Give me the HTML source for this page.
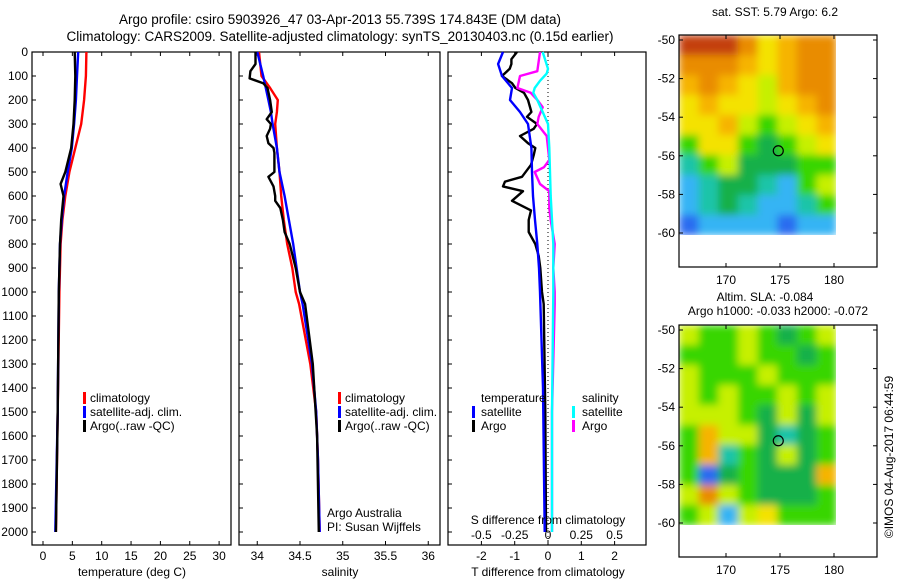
<!DOCTYPE html>
<html><head><meta charset="utf-8">
<style>
body{margin:0;background:#fff;}
svg{display:block;font-family:"Liberation Sans",Arial,sans-serif;}
</style></head>
<body>
<svg id="fig" width="900" height="580" viewBox="0 0 900 580">
<defs>
<filter id="soft" x="-5%" y="-5%" width="110%" height="110%"><feGaussianBlur stdDeviation="4" edgeMode="duplicate"/></filter>
<clipPath id="clip1"><rect x="679" y="35" width="157" height="200"/></clipPath>
<clipPath id="clip2"><rect x="679" y="325" width="157" height="200"/></clipPath>
</defs>
<rect width="900" height="580" fill="#fff"/>
<text x="340" y="24" font-size="13.5" text-anchor="middle">Argo profile: csiro 5903926_47 03-Apr-2013 55.739S 174.843E (DM data)</text>
<text x="340" y="41" font-size="13.5" text-anchor="middle">Climatology: CARS2009. Satellite-adjusted climatology: synTS_20130403.nc (0.15d earlier)</text>
<g id="plots"></g>
<g id="maps"></g>
</svg>
<script>
// ---- depth grids & profile data ----
const depthT = [0,100,200,300,400,500,600,700,800,1000,1500,2000];
const tempClim = [7.4,7.3,7.0,6.5,5.5,4.5,3.8,3.3,3.0,2.8,2.5,2.2];
const tempSat = [6.0,5.8,5.6,5.3,4.9,4.2,3.6,3.2,2.9,2.7,2.5,2.1];
const depthTA = [0,100,200,300,400,500,550,600,700,800,1000,1500,2000];
const tempArgo = [5.4,5.5,5.4,5.2,4.8,3.8,3.0,3.5,3.1,2.9,2.7,2.5,2.2];

const depthS = [0,100,150,200,250,300,400,500,600,700,800,900,1000,1050,1300,1500,1700,2000];
const salClim = [34.02,34.05,34.15,34.24,34.23,34.21,34.23,34.26,34.28,34.31,34.35,34.41,34.45,34.49,34.62,34.69,34.71,34.73];
const salSat = [34.0,34.07,34.10,34.13,34.16,34.18,34.23,34.26,34.32,34.37,34.42,34.46,34.50,34.53,34.64,34.69,34.71,34.73];
const depthSA = [0,50,80,110,130,150,200,250,280,300,320,350,380,400,420,500,520,560,600,620,650,700,750,800,900,1000,1050,1300,1600,2000];
const salArgo = [33.98,33.98,33.92,33.91,34.07,34.12,34.15,34.17,34.11,34.16,34.15,34.11,34.13,34.19,34.20,34.20,34.13,34.19,34.21,34.21,34.27,34.30,34.32,34.38,34.45,34.50,34.56,34.65,34.70,34.72];

const depthD1 = [0,50,100,150,200,250,300,400,500,600,700,800,900,1000,1400,2000];
const tdiffSat = [-1.35,-1.5,-1.38,-1.08,-1.14,-0.84,-0.6,-0.5,-0.48,-0.45,-0.39,-0.32,-0.27,-0.24,-0.15,-0.1];
const depthD2 = [0,30,50,70,100,130,150,170,200,250,270,300,320,350,380,400,430,470,520,540,560,580,620,660,700,750,800,850,900,1000,1050,1500,2000];
const tdiffArgo = [-0.93,-1.1,-1.1,-1.15,-1.38,-1.08,-0.98,-0.72,-0.6,-0.5,-0.63,-0.33,-0.43,-0.84,-0.6,-0.38,-0.43,-0.51,-0.78,-1.29,-1.35,-0.75,-1.08,-0.51,-0.58,-0.58,-0.38,-0.28,-0.23,-0.18,-0.13,-0.08,-0.06];
const depthD3 = [0,80,100,150,170,200,230,270,300,350,400,450,480,500,550,580,650,700,800,900,1000,1050,1500,2000];
const sdiffArgo = [-0.06,-0.08,-0.21,-0.23,-0.13,-0.08,-0.04,-0.07,-0.08,-0.01,0.0,0.01,-0.03,-0.1,-0.06,0.01,0.01,0.02,0.05,0.04,0.05,0.05,0.03,0.03];
const depthD4 = [0,70,90,120,150,170,200,250,300,400,600,800,1000,1500,2000];
const sdiffSat = [-0.04,0.0,-0.01,-0.06,-0.1,-0.11,-0.08,-0.04,0.0,0.01,0.02,0.04,0.04,0.03,0.03];

const depthTicks = [0,100,200,300,400,500,600,700,800,900,1000,1100,1200,1300,1400,1500,1600,1700,1800,1900,2000];
const tempTicks = [0,5,10,15,20,25,30];
const salTicks = [34,34.5,35,35.5,36];
const tdiffTicks = [-2,-1,0,1,2];
const sdiffTickLabels = ["-0.5","-0.25","0","0.25","0.5"];
const sdiffTicks = [-0.5,-0.25,0,0.25,0.5];

// ---- map colour grids (8 cols x 10 rows) ----
const sstRows = ["RRROYoOO","OOOoYoOO","oOoYLoOO","YoYYLYoO","YYoLGLYo","GYYGgGLY","CGLgggGG","cCggCcGL","cCgCccCG","BccccBcc"];
const slaRows = ["LGGLGgGL","GGGLGGgG","LGGGLGGG","LGLGGLGL","LLLGgLgL","GoLLgCgG","GoCGgLgG","GBgGgggo","LOLGgggG","GLcLYGGG"];
const palette = {R:"#c4400c",O:"#e98c00",o:"#f6b400",Y:"#f4e200",L:"#c6f000",G:"#38d600",g:"#14b048",C:"#1cc4a8",c:"#34b4f4",B:"#2a6cf0"};

const NS = "http://www.w3.org/2000/svg";
const plots = document.getElementById('plots');
const maps = document.getElementById('maps');
function mk(tag, attrs, parent){const e=document.createElementNS(NS,tag);for(const k in attrs)e.setAttribute(k,attrs[k]);(parent||plots).appendChild(e);return e;}

const Y0 = 52, YS = 0.24, YB = 545;
function yScale(d){return Y0 + d*YS;}
function tScale(v){return 43 + v*5.87;}
function sScale(v){return 300 + (v-34.5)*85.5;}
function tdScale(v){return 548 + v*33.3;}
function sdScale(v){return 548 + v*133.2;}

function frame(x0,x1,name){
  const r = mk('rect',{x:x0,y:Y0,width:x1-x0,height:YB-Y0,fill:'none',stroke:'#000','stroke-width':1.2});
  
  
  depthTicks.forEach(d=>{mk('line',{x1:x0,x2:x0+4,y1:yScale(d),y2:yScale(d),stroke:'#000'});});
}
function xticks(vals, f, labels, ly, name){
  vals.forEach((v,i)=>{
    const x=f(v);
    mk('line',{x1:x,x2:x,y1:Y0,y2:Y0+4,stroke:'#000'});
    mk('line',{x1:x,x2:x,y1:YB,y2:YB-4,stroke:'#000'});
    const t=mk('text',{x:x,y:ly,'font-size':12,'text-anchor':'middle'});
    t.textContent=labels[i];
    
    
  });
}
function line(ds, vs, f, color, name){
  const pts = ds.map((d,i)=>f(vs[i]).toFixed(1)+','+yScale(d).toFixed(1)).join(' ');
  const p = mk('polyline',{points:pts,fill:'none',stroke:color,'stroke-width':2.4,'stroke-linejoin':'round'});
  
  
}
function label(x,y,txt,name,anchor,size){
  const t=mk('text',{x:x,y:y,'font-size':size||12,'text-anchor':anchor||'start'});
  t.textContent=txt;
  
  
  return t;
}
function legendEntry(mx,tx,y,color,txt){
  const m=mk('rect',{x:mx,y:y-10,width:3,height:12,fill:color});
  
  
  label(tx,y,txt,'legend-entry');
}

// Panel 1: temperature
frame(32,231,'temperature-axes');
depthTicks.forEach(d=>{label(28,yScale(d)+4,String(d),'depth-tick-label','end');});
xticks(tempTicks,tScale,tempTicks.map(String),560,'temperature-tick-label');
label(132,576,'temperature (deg C)','temperature-axis-title','middle');
line(depthT,tempClim,tScale,'#ff0000','temp-climatology-line');
line(depthT,tempSat,tScale,'#0000ff','temp-satellite-line');
line(depthTA,tempArgo,tScale,'#000000','temp-argo-line');
legendEntry(83,90,402,'#ff0000','climatology');
legendEntry(83,90,416,'#0000ff','satellite-adj. clim.');
legendEntry(83,90,430,'#000000','Argo(..raw -QC)');

// Panel 2: salinity
frame(239,440,'salinity-axes');
xticks(salTicks,sScale,salTicks.map(String),560,'salinity-tick-label');
label(340,576,'salinity','salinity-axis-title','middle');
line(depthS,salClim,sScale,'#ff0000','sal-climatology-line');
line(depthS,salSat,sScale,'#0000ff','sal-satellite-line');
line(depthSA,salArgo,sScale,'#000000','sal-argo-line');
legendEntry(338,345,402,'#ff0000','climatology');
legendEntry(338,345,416,'#0000ff','satellite-adj. clim.');
legendEntry(338,345,430,'#000000','Argo(..raw -QC)');
label(327,517,'Argo Australia','argo-australia-label');
label(327,531,'PI: Susan Wijffels','pi-label');

// Panel 3: differences
frame(448,646,'difference-axes');
const zl = mk('line',{x1:548,x2:548,y1:Y0,y2:YB,stroke:'#000','stroke-dasharray':'1,3'});


xticks(tdiffTicks,tdScale,tdiffTicks.map(String),560,'tdiff-tick-label');
line(depthD2,tdiffArgo,tdScale,'#000000','tdiff-argo-line');
line(depthD1,tdiffSat,tdScale,'#0000ff','tdiff-satellite-line');
line(depthD3,sdiffArgo,sdScale,'#ff00ff','sdiff-argo-line');
line(depthD4,sdiffSat,sdScale,'#00ffff','sdiff-satellite-line');
sdiffTicks.forEach((v,i)=>{label(sdScale(v),539,sdiffTickLabels[i],'sdiff-tick-label','middle');});
label(548,524,'S difference from climatology','sdiff-axis-title','middle');
label(548,576,'T difference from climatology','tdiff-axis-title','middle');
label(481,402,'temperature','legend-title-temperature');
legendEntry(472,481,416,'#0000ff','satellite');
legendEntry(472,481,430,'#000000','Argo');
label(582,402,'salinity','legend-title-salinity');
legendEntry(572,582,416,'#00ffff','satellite');
legendEntry(572,582,430,'#ff00ff','Argo');

// ---- maps ----
function lonX(l){return 726 + (l-170)*10.8;}
function drawMap(top, rows, name, clipId){
  const latY = v => top + 5 + (-50 - v)*19.3;
  const imgX0 = 679, imgX1 = lonX(180.2), imgY0 = top, imgY1 = latY(-60.1);
  const cw = (imgX1-imgX0)/8, ch = (imgY1-imgY0)/10;
  const outer = mk('g',{'clip-path':'url(#'+clipId+')'},maps);
  const g = mk('g',{filter:'url(#soft)'},outer);
  
  
  rows.forEach((row,r)=>{
    [...row].forEach((c,k)=>{
      mk('rect',{x:imgX0+k*cw,y:imgY0+r*ch,width:cw+0.5,height:ch+0.5,fill:palette[c]},g);
    });
  });
  const circ = mk('circle',{cx:lonX(174.84),cy:latY(-55.74),r:5,fill:'none',stroke:'#000','stroke-width':1.2},maps);
  
  
  const fr = mk('rect',{x:679,y:top,width:198,height:232,fill:'none',stroke:'#000','stroke-width':1.2},maps);
  
  
  [-50,-52,-54,-56,-58,-60].forEach(v=>{
    const y=latY(v);
    mk('line',{x1:679,x2:683,y1:y,y2:y,stroke:'#000'},maps);
    mk('line',{x1:877,x2:873,y1:y,y2:y,stroke:'#000'},maps);
    const t=mk('text',{x:675,y:y+4,'font-size':12,'text-anchor':'end'},maps);
    t.textContent=String(v);
    
    
  });
  [170,175,180].forEach(v=>{
    const x=lonX(v);
    mk('line',{x1:x,x2:x,y1:top,y2:top+4,stroke:'#000'},maps);
    mk('line',{x1:x,x2:x,y1:top+232,y2:top+228,stroke:'#000'},maps);
    const t=mk('text',{x:x,y:top+249,'font-size':12,'text-anchor':'middle'},maps);
    t.textContent=String(v);
    
    
  });
}
drawMap(35, sstRows, 'sst-map', 'clip1');
drawMap(325, slaRows, 'sla-map', 'clip2');
function mlabel(x,y,txt,name){const t=mk('text',{x:x,y:y,'font-size':12,'text-anchor':'middle'},maps);t.textContent=txt;}
mlabel(775,16,'sat. SST: 5.79 Argo: 6.2','sst-map-title');
mlabel(765,301,'Altim. SLA: -0.084','sla-map-title-1');
mlabel(778,315,'Argo h1000: -0.033 h2000: -0.072','sla-map-title-2');
const cp = mk('text',{x:0,y:0,'font-size':12,'text-anchor':'middle',transform:'translate(893,457) rotate(-90)'},maps);
cp.textContent='©IMOS 04-Aug-2017 06:44:59';


</script>
</body></html>
